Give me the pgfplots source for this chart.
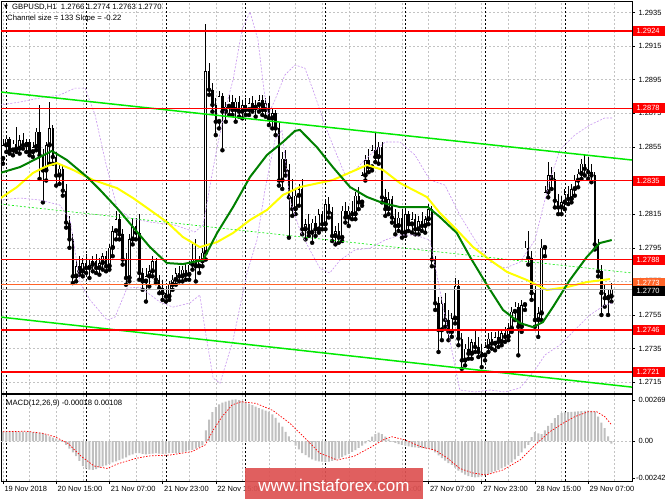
\documentclass[border=0pt]{standalone}
\usepackage{fontspec}
\setmainfont{Liberation Sans}
\newfontfamily\symfont{DejaVu Sans}
\usepackage{pgfplots}
\usepackage{pgfplotstable}
\pgfplotsset{compat=1.18}
\definecolor{lvlred}{RGB}{255,0,0}
\definecolor{chgreen}{RGB}{0,235,0}
\definecolor{magreen}{RGB}{0,128,0}
\definecolor{mayellow}{RGB}{255,255,0}
\definecolor{bandviolet}{RGB}{200,150,240}
\definecolor{gridgray}{RGB}{195,195,195}
\definecolor{histgray}{RGB}{192,192,192}
\definecolor{wmred}{RGB}{222,82,82}
\definecolor{askorange}{RGB}{255,100,40}

\pgfplotstableread{
i o h l c
0 1.2848 1.2860 1.2845 1.2856
1 1.2856 1.2862 1.2852 1.2860
2 1.2860 1.2861 1.2851 1.2853
3 1.2853 1.2859 1.2850 1.2857
4 1.2857 1.2867 1.2852 1.2854
5 1.2854 1.2862 1.2851 1.2859
6 1.2859 1.2863 1.2854 1.2856
7 1.2856 1.2860 1.2852 1.2858
8 1.2858 1.2860 1.2850 1.2852
9 1.2852 1.2858 1.2849 1.2855
10 1.2855 1.2866 1.2853 1.2864
11 1.2864 1.2880 1.2836 1.2850
12 1.2850 1.2854 1.2822 1.2841
13 1.2841 1.2858 1.2835 1.2856
14 1.2856 1.2882 1.2845 1.2866
15 1.2866 1.2868 1.2845 1.2849
16 1.2849 1.2852 1.2832 1.2838
17 1.2838 1.2845 1.2833 1.2842
18 1.2842 1.2844 1.2826 1.2829
19 1.2829 1.2833 1.2807 1.2810
20 1.2810 1.2814 1.2795 1.2800
21 1.2800 1.2803 1.2774 1.2778
22 1.2778 1.2788 1.2775 1.2784
23 1.2784 1.2790 1.2779 1.2781
24 1.2781 1.2789 1.2778 1.2786
25 1.2786 1.2791 1.2780 1.2783
26 1.2783 1.2788 1.2777 1.2785
27 1.2785 1.2790 1.2781 1.2787
28 1.2787 1.2791 1.2780 1.2783
29 1.2783 1.2789 1.2779 1.2786
30 1.2786 1.2792 1.2782 1.2790
31 1.2790 1.2793 1.2781 1.2784
32 1.2784 1.2797 1.2782 1.2795
33 1.2795 1.2808 1.2790 1.2805
34 1.2805 1.2817 1.2800 1.2812
35 1.2812 1.2815 1.2800 1.2803
36 1.2803 1.2806 1.2785 1.2788
37 1.2788 1.2792 1.2773 1.2777
38 1.2777 1.2803 1.2775 1.2800
39 1.2800 1.2812 1.2797 1.2808
40 1.2808 1.2813 1.2800 1.2804
41 1.2804 1.2815 1.2776 1.2780
42 1.2780 1.2783 1.2770 1.2775
43 1.2775 1.2783 1.2763 1.2778
44 1.2778 1.2785 1.2772 1.2781
45 1.2781 1.2790 1.2778 1.2787
46 1.2787 1.2789 1.2774 1.2776
47 1.2776 1.2779 1.2768 1.2771
48 1.2771 1.2776 1.2764 1.2768
49 1.2768 1.2772 1.2763 1.2766
50 1.2766 1.2775 1.2764 1.2773
51 1.2773 1.2779 1.2770 1.2776
52 1.2776 1.2783 1.2773 1.2780
53 1.2780 1.2784 1.2775 1.2778
54 1.2778 1.2784 1.2775 1.2782
55 1.2782 1.2786 1.2776 1.2779
56 1.2779 1.2787 1.2776 1.2785
57 1.2785 1.2798 1.2782 1.2788
58 1.2788 1.2800 1.2775 1.2784
59 1.2784 1.2790 1.2780 1.2787
60 1.2787 1.2795 1.2784 1.2792
61 1.2792 1.2928 1.2788 1.2900
62 1.2900 1.2905 1.2886 1.2889
63 1.2889 1.2893 1.2876 1.2880
64 1.2880 1.2884 1.2862 1.2870
65 1.2870 1.2888 1.2866 1.2885
66 1.2885 1.2887 1.2853 1.2876
67 1.2876 1.2882 1.2870 1.2879
68 1.2879 1.2886 1.2874 1.2882
69 1.2882 1.2886 1.2874 1.2877
70 1.2877 1.2884 1.2870 1.2882
71 1.2882 1.2885 1.2873 1.2876
72 1.2876 1.2883 1.2872 1.2880
73 1.2880 1.2884 1.2874 1.2877
74 1.2877 1.2884 1.2874 1.2881
75 1.2881 1.2885 1.2876 1.2878
76 1.2878 1.2883 1.2873 1.2880
77 1.2880 1.2886 1.2876 1.2883
78 1.2883 1.2886 1.2874 1.2877
79 1.2877 1.2884 1.2873 1.2881
80 1.2881 1.2885 1.2868 1.2872
81 1.2872 1.2878 1.2866 1.2875
82 1.2875 1.2877 1.2862 1.2866
83 1.2866 1.2869 1.2832 1.2835
84 1.2835 1.2852 1.2830 1.2848
85 1.2848 1.2853 1.2838 1.2841
86 1.2841 1.2845 1.2801 1.2825
87 1.2825 1.2836 1.2814 1.2818
88 1.2818 1.2830 1.2815 1.2826
89 1.2826 1.2833 1.2820 1.2830
90 1.2830 1.2836 1.2803 1.2806
91 1.2806 1.2812 1.2800 1.2809
92 1.2809 1.2815 1.2802 1.2804
93 1.2804 1.2812 1.2798 1.2810
94 1.2810 1.2814 1.2802 1.2806
95 1.2806 1.2818 1.2804 1.2815
96 1.2815 1.2817 1.2806 1.2809
97 1.2809 1.2824 1.2806 1.2821
98 1.2821 1.2825 1.2813 1.2816
99 1.2816 1.2819 1.2799 1.2802
100 1.2802 1.2808 1.2797 1.2805
101 1.2805 1.2810 1.2798 1.2801
102 1.2801 1.2820 1.2799 1.2817
103 1.2817 1.2822 1.2810 1.2813
104 1.2813 1.2820 1.2808 1.2817
105 1.2817 1.2823 1.2812 1.2815
106 1.2815 1.2828 1.2812 1.2826
107 1.2826 1.2831 1.2818 1.2822
108 1.2822 1.2840 1.2820 1.2838
109 1.2838 1.2850 1.2835 1.2847
110 1.2847 1.2854 1.2840 1.2843
111 1.2843 1.2856 1.2841 1.2853
112 1.2853 1.2863 1.2846 1.2849
113 1.2849 1.2858 1.2845 1.2855
114 1.2855 1.2858 1.2822 1.2825
115 1.2825 1.2830 1.2814 1.2818
116 1.2818 1.2828 1.2815 1.2824
117 1.2824 1.2826 1.2810 1.2813
118 1.2813 1.2818 1.2803 1.2808
119 1.2808 1.2816 1.2805 1.2813
120 1.2813 1.2818 1.2801 1.2804
121 1.2804 1.2818 1.2802 1.2815
122 1.2815 1.2817 1.2805 1.2809
123 1.2809 1.2816 1.2804 1.2812
124 1.2812 1.2815 1.2803 1.2806
125 1.2806 1.2814 1.2803 1.2811
126 1.2811 1.2816 1.2805 1.2808
127 1.2808 1.2814 1.2804 1.2812
128 1.2812 1.2821 1.2809 1.2818
129 1.2818 1.2820 1.2784 1.2788
130 1.2788 1.2790 1.2758 1.2762
131 1.2762 1.2766 1.2733 1.2746
132 1.2746 1.2766 1.2740 1.2762
133 1.2762 1.2768 1.2748 1.2752
134 1.2752 1.2758 1.2740 1.2745
135 1.2745 1.2756 1.2742 1.2753
136 1.2753 1.2777 1.2750 1.2772
137 1.2772 1.2776 1.2737 1.2741
138 1.2741 1.2744 1.2723 1.2728
139 1.2728 1.2738 1.2725 1.2735
140 1.2735 1.2742 1.2729 1.2732
141 1.2732 1.2741 1.2729 1.2739
142 1.2739 1.2746 1.2733 1.2736
143 1.2736 1.2742 1.2730 1.2733
144 1.2733 1.2738 1.2724 1.2731
145 1.2731 1.2739 1.2728 1.2736
146 1.2736 1.2744 1.2733 1.2741
147 1.2741 1.2745 1.2735 1.2738
148 1.2738 1.2745 1.2734 1.2742
149 1.2742 1.2746 1.2736 1.2739
150 1.2739 1.2746 1.2737 1.2744
151 1.2744 1.2748 1.2739 1.2742
152 1.2742 1.2750 1.2740 1.2747
153 1.2747 1.2760 1.2745 1.2757
154 1.2757 1.2763 1.2752 1.2760
155 1.2760 1.2762 1.2731 1.2748
156 1.2748 1.2764 1.2745 1.2761
157 1.2761 1.2799 1.2758 1.2795
158 1.2795 1.2805 1.2785 1.2789
159 1.2789 1.2793 1.2764 1.2768
160 1.2768 1.2772 1.2748 1.2752
161 1.2752 1.2760 1.2742 1.2756
162 1.2756 1.2800 1.2752 1.2795
163 1.2795 1.2832 1.2790 1.2828
164 1.2828 1.2846 1.2825 1.2838
165 1.2838 1.2843 1.2830 1.2836
166 1.2836 1.2840 1.2819 1.2823
167 1.2823 1.2827 1.2815 1.2819
168 1.2819 1.2826 1.2815 1.2822
169 1.2822 1.2830 1.2818 1.2827
170 1.2827 1.2832 1.2821 1.2824
171 1.2824 1.2833 1.2822 1.2830
172 1.2830 1.2838 1.2826 1.2835
173 1.2835 1.2842 1.2831 1.2839
174 1.2839 1.2848 1.2836 1.2845
175 1.2845 1.2850 1.2838 1.2842
176 1.2842 1.2849 1.2836 1.2840
177 1.2840 1.2845 1.2834 1.2838
178 1.2838 1.2840 1.2794 1.2797
179 1.2797 1.2800 1.2778 1.2781
180 1.2781 1.2785 1.2755 1.2768
181 1.2768 1.2773 1.2760 1.2765
182 1.2765 1.2770 1.2755 1.2767
183 1.2766 1.2774 1.2763 1.2770
}\candles

\pgfplotstableread{
i v
0 0.00061
1 0.00062
2 0.00063
3 0.00063
4 0.00062
5 0.00062
6 0.00061
7 0.00060
8 0.00060
9 0.00058
10 0.00057
11 0.00055
12 0.00052
13 0.00042
14 0.00030
15 0.00022
16 0.00015
17 0.00008
18 -0.00005
19 -0.00025
20 -0.00050
21 -0.00075
22 -0.00100
23 -0.00130
24 -0.00165
25 -0.00182
26 -0.00188
27 -0.00190
28 -0.00185
29 -0.00175
30 -0.00167
31 -0.00160
32 -0.00150
33 -0.00140
34 -0.00133
35 -0.00125
36 -0.00115
37 -0.00107
38 -0.00095
39 -0.00088
40 -0.00080
41 -0.00080
42 -0.00085
43 -0.00088
44 -0.00085
45 -0.00082
46 -0.00080
47 -0.00082
48 -0.00085
49 -0.00083
50 -0.00080
51 -0.00078
52 -0.00080
53 -0.00080
54 -0.00075
55 -0.00070
56 -0.00062
57 -0.00058
58 -0.00050
59 -0.00040
60 -0.00028
61 0.00070
62 0.00140
63 0.00190
64 0.00222
65 0.00240
66 0.00252
67 0.00258
68 0.00265
69 0.00272
70 0.00273
71 0.00268
72 0.00262
73 0.00255
74 0.00245
75 0.00235
76 0.00225
77 0.00215
78 0.00208
79 0.00200
80 0.00192
81 0.00175
82 0.00152
83 0.00120
84 0.00095
85 0.00060
86 0.00030
87 0.00005
88 -0.00030
89 -0.00055
90 -0.00080
91 -0.00092
92 -0.00108
93 -0.00120
94 -0.00128
95 -0.00133
96 -0.00136
97 -0.00137
98 -0.00136
99 -0.00130
100 -0.00125
101 -0.00116
102 -0.00105
103 -0.00095
104 -0.00085
105 -0.00072
106 -0.00060
107 -0.00045
108 -0.00030
109 -0.00016
110 0.00005
111 0.00028
112 0.00045
113 0.00055
114 0.00045
115 0.00028
116 0.00010
117 -0.00004
118 -0.00012
119 -0.00020
120 -0.00025
121 -0.00030
122 -0.00036
123 -0.00040
124 -0.00042
125 -0.00045
126 -0.00046
127 -0.00048
128 -0.00052
129 -0.00060
130 -0.00075
131 -0.00095
132 -0.00112
133 -0.00128
134 -0.00145
135 -0.00157
136 -0.00175
137 -0.00195
138 -0.00208
139 -0.00220
140 -0.00230
141 -0.00235
142 -0.00238
143 -0.00237
144 -0.00232
145 -0.00224
146 -0.00217
147 -0.00208
148 -0.00200
149 -0.00190
150 -0.00180
151 -0.00168
152 -0.00155
153 -0.00140
154 -0.00120
155 -0.00098
156 -0.00075
157 -0.00048
158 -0.00026
159 0.00025
160 0.00058
161 0.00050
162 0.00045
163 0.00070
164 0.00100
165 0.00118
166 0.00150
167 0.00170
168 0.00184
169 0.00188
170 0.00190
171 0.00191
172 0.00192
173 0.00194
174 0.00196
175 0.00198
176 0.00200
177 0.00198
178 0.00192
179 0.00160
180 0.00120
181 0.00085
182 0.00030
183 -0.00018
}\macd

\begin{document}
\begin{tikzpicture}[x=1pt,y=1pt,font=\fontsize{7.7}{9}\selectfont]
\path[use as bounding box, fill=white] (0,0) rectangle (665,499);

\begin{axis}[
  at={(1pt,106pt)}, anchor=south west, scale only axis,
  width=631pt, height=392pt,
  xmin=-0.6, xmax=189.2, ymin=1.27086, ymax=1.29418,
  scaled x ticks=false, scaled y ticks=false,
  clip mode=individual,
  axis line style={black, line width=0.8pt},
  xtick={0,16,...,176}, minor xtick={8,24,...,184},
  xticklabels={}, xmajorgrids, xminorgrids,
  xtick style={draw=none}, minor x tick style={draw=none},
  extra x ticks={1,25,49,73,97,121,145,169}, extra x tick labels={},
  extra x tick style={grid=major, major grid style={black, dash pattern=on 2pt off 2pt, line width=0.5pt}, xtick style={draw=none}},
  ytick={1.2715,1.2735,1.2755,1.2775,1.2795,1.2815,1.2835,1.2855,1.2875,1.2895,1.2915,1.2935},
  yticklabels={1.2715,1.2735,1.2755,1.2775,1.2795,1.2815,{},1.2855,1.2875,1.2895,1.2915,1.2935},
  ytick pos=right, yticklabel pos=right, ymajorgrids,
  tick align=outside, major tick length=3pt,
  ytick style={black, line width=0.5pt},
  tick label style={font=\fontsize{7.5}{9}\selectfont},
  major grid style={gridgray, dash pattern=on 2pt off 2pt, line width=0.5pt},
  minor grid style={gridgray, dash pattern=on 2pt off 2pt, line width=0.5pt},
]
% candles: wicks
\addplot[only marks, mark=none, error bars/y dir=plus, error bars/y explicit, error bars/error mark=none, error bars/error bar style={black, line width=0.75pt, solid}]
  table[x=i, y=l, y error expr=\thisrow{h}-\thisrow{l}] {\candles};
% bear bodies
\addplot[only marks, mark=none, x filter/.expression={(\thisrow{c}<\thisrow{o}) ? x : nan}, error bars/y dir=plus, error bars/y explicit, error bars/error mark=none, error bars/error bar style={black, line width=2.4pt, solid}]
  table[x=i, y=c, y error expr=\thisrow{o}-\thisrow{c}] {\candles};
% bull bodies outline
\addplot[only marks, mark=none, x filter/.expression={(\thisrow{c}>\thisrow{o}) ? x : nan}, error bars/y dir=plus, error bars/y explicit, error bars/error mark=none, error bars/error bar style={black, line width=2.6pt, solid}]
  table[x=i, y=o, y error expr=\thisrow{c}-\thisrow{o}] {\candles};
% bull bodies interior
\addplot[only marks, mark=none, x filter/.expression={(\thisrow{c}-\thisrow{o}>0.0001) ? x : nan}, error bars/y dir=plus, error bars/y explicit, error bars/error mark=none, error bars/error bar style={white, line width=1.2pt, solid}]
  table[x=i, y expr=\thisrow{o}+0.00004, y error expr=\thisrow{c}-\thisrow{o}-0.00008] {\candles};

% bands
\addplot[bandviolet, dash pattern=on 2pt off 1.5pt, line width=0.6pt] coordinates {
(-0.9,1.28799) (5.1,1.28817) (11.1,1.28841) (17.1,1.28859) (21.7,1.28900) (24.7,1.28900) (27.7,1.28740) (30.7,1.28472) (34.3,1.28186) (38.2,1.28127) (44.2,1.28103) (51.7,1.28085) (57.7,1.28044) (60.2,1.28085) (62.3,1.28323) (64.4,1.28549) (66.8,1.28770) (69.2,1.28948) (71.9,1.29246) (74.3,1.29353) (76.7,1.29186) (78.5,1.28888) (79.7,1.28740) (81.8,1.28829) (84.8,1.28978) (87.8,1.29037) (90.8,1.29019) (93.8,1.28859) (96.8,1.28680) (99.8,1.28532) (102.9,1.28383) (105.9,1.28413) (110.4,1.28502) (114.9,1.28579) (119.4,1.28579) (123.9,1.28502) (128.4,1.28353) (132.9,1.28323) (137.4,1.28145) (142.0,1.27996) (146.5,1.27865) (151.0,1.27829) (155.5,1.27865) (160.0,1.27996) (164.5,1.28353) (167.5,1.28532) (172.0,1.28621) (176.5,1.28680) (181.0,1.28722) (183.2,1.28722)};
\addplot[bandviolet, dash pattern=on 2pt off 1.5pt, line width=0.6pt] coordinates {
(-0.9,1.28234) (5.1,1.28246) (11.1,1.28234) (17.1,1.28204) (20.2,1.28115) (23.2,1.27740) (26.2,1.27639) (31.3,1.27520) (33.7,1.27538) (37.3,1.27710) (41.2,1.27716) (47.2,1.27627) (51.1,1.27597) (56.2,1.27621) (59.2,1.27669) (60.8,1.27461) (63.2,1.27175) (65.3,1.27145) (69.2,1.27401) (73.4,1.27800) (76.4,1.27996) (78.8,1.28294) (81.8,1.28591) (83.9,1.28651) (86.3,1.28234) (89.3,1.28056) (92.3,1.27937) (95.3,1.27829) (98.3,1.27800) (101.4,1.27877) (105.9,1.27937) (110.4,1.27948) (114.9,1.27996) (119.4,1.28026) (123.9,1.28026) (128.4,1.27996) (131.4,1.27699) (134.4,1.27401) (137.4,1.27104) (142.0,1.27092) (146.5,1.27104) (151.0,1.27092) (155.5,1.27116) (160.0,1.27223) (163.0,1.27312) (167.5,1.27371) (172.0,1.27461) (176.5,1.27550) (181.0,1.27609) (183.2,1.27621)};

% moving averages
\addplot[mayellow, line width=2pt] coordinates {
(-0.9,1.28243) (4.2,1.28311) (9.0,1.28395) (13.2,1.28436) (16.2,1.28454) (21.1,1.28413) (27.1,1.28353) (34.3,1.28305) (39.1,1.28246) (44.2,1.28175) (49.3,1.28103) (54.1,1.28014) (59.2,1.27954) (64.4,1.27984) (69.2,1.28038) (74.3,1.28115) (79.4,1.28175) (84.2,1.28264) (89.3,1.28311) (99.2,1.28353) (109.5,1.28442) (114.3,1.28413) (119.4,1.28335) (127.5,1.28252) (131.4,1.28157) (136.5,1.28056) (141.4,1.27954) (146.5,1.27877) (151.6,1.27806) (157.6,1.27758) (163.6,1.27699) (169.6,1.27716) (175.6,1.27746) (182.6,1.27764)};
\addplot[magreen, line width=2pt] coordinates {
(-0.9,1.28395) (5.1,1.28430) (11.1,1.28490) (14.7,1.28526) (19.2,1.28472) (25.3,1.28371) (29.2,1.28294) (34.3,1.28186) (39.1,1.28073) (44.2,1.27954) (49.3,1.27859) (54.1,1.27853) (60.2,1.27877) (64.4,1.28038) (69.2,1.28192) (74.3,1.28371) (79.4,1.28502) (84.2,1.28579) (87.8,1.28645) (89.3,1.28651) (94.4,1.28549) (99.2,1.28430) (104.4,1.28311) (109.5,1.28252) (114.3,1.28216) (119.4,1.28192) (127.8,1.28192) (131.4,1.28133) (136.5,1.28038) (140.5,1.27895) (145.6,1.27728) (150.4,1.27580) (155.5,1.27502) (159.4,1.27478) (162.4,1.27508) (165.4,1.27597) (170.5,1.27758) (175.6,1.27895) (179.5,1.27978) (183.1,1.27996)};

% channel
\addplot[chgreen, line width=1.5pt] coordinates {(-0.9,1.28877) (189.2,1.28472)};
\addplot[chgreen, dash pattern=on 2pt off 2pt, line width=0.6pt] coordinates {(-0.9,1.28210) (189.2,1.27800)};
\addplot[chgreen, line width=1.5pt] coordinates {(-0.9,1.27538) (189.2,1.27121)};

% levels
\addplot[lvlred, line width=1.4pt] coordinates {(-0.6,1.2924) (189.2,1.2924)};
\addplot[lvlred, line width=1.4pt] coordinates {(-0.6,1.2878) (189.2,1.2878)};
\addplot[lvlred, line width=1.4pt] coordinates {(-0.6,1.2835) (189.2,1.2835)};
\addplot[lvlred, line width=1.4pt] coordinates {(-0.6,1.2788) (189.2,1.2788)};
\addplot[lvlred, line width=1.4pt] coordinates {(-0.6,1.2746) (189.2,1.2746)};
\addplot[lvlred, line width=1.4pt] coordinates {(-0.6,1.2721) (189.2,1.2721)};
\addplot[askorange, line width=0.6pt] coordinates {(-0.6,1.2773) (189.2,1.2773)};
\addplot[gray!60, line width=0.6pt] coordinates {(-0.6,1.2770) (189.2,1.2770)};

\coordinate (LA) at (axis cs:189.2,1.2924);
\coordinate (LB) at (axis cs:189.2,1.2878);
\coordinate (LC) at (axis cs:189.2,1.2835);
\coordinate (LD) at (axis cs:189.2,1.2788);
\coordinate (LE) at (axis cs:189.2,1.2746);
\coordinate (LF) at (axis cs:189.2,1.2721);
\coordinate (LG) at (axis cs:189.2,1.2773);
\coordinate (LH) at (axis cs:189.2,1.2770);
\end{axis}

\begin{scope}[every node/.style={anchor=west, text=white, inner xsep=3.5pt, inner ysep=1.5pt, minimum height=10pt, text width=24.5pt, align=left, font=\fontsize{7.5}{9}\selectfont}]
\node[fill=lvlred] at ([xshift=1pt]LA) {1.2924};
\node[fill=lvlred] at ([xshift=1pt]LB) {1.2878};
\node[fill=lvlred] at ([xshift=1pt]LC) {1.2835};
\node[fill=lvlred] at ([xshift=1pt]LD) {1.2788};
\node[fill=lvlred] at ([xshift=1pt]LE) {1.2746};
\node[fill=lvlred] at ([xshift=1pt]LF) {1.2721};
\node[fill=askorange] at ([xshift=1pt,yshift=2pt]LG) {1.2773};
\node[fill=black] at ([xshift=1pt,yshift=-1pt]LH) {1.2770};
\end{scope}

\node[anchor=west, inner sep=0pt, font=\symfont\fontsize{5}{6}\selectfont] at (4,492) {▼};
\node[anchor=west, inner sep=0pt] at (12,492) {GBPUSD,H1\ \ 1.2766 1.2774 1.2763 1.2770};
\node[anchor=west, inner sep=0pt] at (7,480) {Channel size = 133 Slope = -0.22};

\begin{axis}[
  at={(1pt,18pt)}, anchor=south west, scale only axis,
  width=631pt, height=87pt,
  xmin=-0.6, xmax=189.2, ymin=-0.002624, ymax=0.003084,
  scaled x ticks=false, scaled y ticks=false,
  clip mode=individual,
  axis line style={black, line width=0.8pt},
  xtick={0,16,...,176}, minor xtick={8,24,...,184},
  xticklabels={19 Nov 2018,20 Nov 15:00,21 Nov 07:00,21 Nov 23:00,22 Nov 15:00,23 Nov 07:00,23 Nov 23:00,26 Nov 15:00,27 Nov 07:00,27 Nov 23:00,28 Nov 15:00,29 Nov 07:00},
  xticklabel style={anchor=north west, xshift=-2pt, yshift=1pt},
  xmajorgrids, xminorgrids, xtick pos=left,
  minor x tick style={draw=none},
  extra x ticks={1,25,49,73,97,121,145,169}, extra x tick labels={},
  extra x tick style={grid=major, major grid style={black, dash pattern=on 2pt off 2pt, line width=0.5pt}, major tick length=0pt},
  ytick={-0.00242,0,0.00269}, yticklabels={\llap{-}0.00242,0.00,0.00269},
  ytick pos=right, yticklabel pos=right,
  tick align=outside, major tick length=3pt,
  tick style={black, line width=0.5pt},
  tick label style={font=\fontsize{7.5}{9}\selectfont},
  major grid style={gridgray, dash pattern=on 2pt off 2pt, line width=0.5pt},
  minor grid style={gridgray, dash pattern=on 2pt off 2pt, line width=0.5pt},
]
\addplot[gridgray, dash pattern=on 2pt off 2pt, line width=0.5pt] coordinates {(-0.6,0) (189.2,0)};
\addplot[ybar, bar width=2pt, bar shift=0pt, fill=histgray, draw=none] table[x=i, y=v] {\macd};
\addplot[lvlred, dash pattern=on 1.5pt off 1.5pt, line width=0.7pt] coordinates {
(0,0.00061) (7,0.00064) (12,0.00050) (15.6,0.00028) (19.5,-0.00015) (23.5,-0.00100) (27.4,-0.00164) (31.3,-0.00180) (34.9,-0.00147) (40,-0.00114) (43.9,-0.00098) (50.2,-0.00092) (56.8,-0.00070) (60.8,-0.00026) (63.2,0.00070) (65.9,0.00160) (68.9,0.00236) (71.6,0.00258) (76.1,0.00247) (81.2,0.00200) (86.3,0.00116) (91.4,0.00007) (95.3,-0.00080) (100.5,-0.00125) (105.6,-0.00100) (110.7,-0.00040) (114.6,0.00010) (117,0.00028) (120.9,0.00007) (126,-0.00040) (130,-0.00060) (133.8,-0.00114) (137.4,-0.00180) (141.4,-0.00210) (145.3,-0.00223) (150.4,-0.00190) (155.5,-0.00125) (160.6,-0.00015) (164.5,0.00061) (168.4,0.00116) (172,0.00160) (176,0.00192) (178.6,0.00192) (181,0.00160) (183,0.00108)};
\end{axis}
\node[anchor=west, inner sep=0pt] at (6,95) {MACD(12,26,9) -0.00018 0.00108};

\fill[wmred, opacity=0.92] (245,0) rectangle (423,31);
\node[anchor=base, text=white, inner sep=0pt, font=\fontsize{17}{18}\selectfont] at (334,8) {www.instaforex.com};
\end{tikzpicture}
\end{document}
